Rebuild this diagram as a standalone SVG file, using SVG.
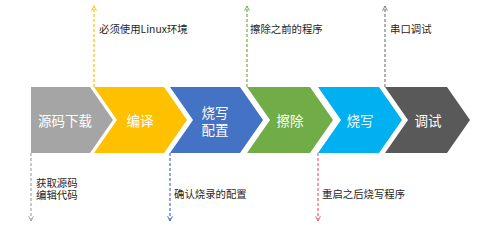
<svg xmlns="http://www.w3.org/2000/svg" width="484" height="228" viewBox="0 0 484 228">
<style>
.lbl{font-family:"Noto Sans CJK SC","Noto Sans",sans-serif;font-size:13.5px;fill:#ffffff;text-anchor:middle;dominant-baseline:central}
.note{font-family:"Noto Sans CJK SC","Noto Sans",sans-serif;font-size:10.4px;fill:#262626;dominant-baseline:central}
.dl{fill:none;stroke-width:1.2;stroke-dasharray:3 2}
</style>
<defs>
<marker id="mGray" viewBox="0 0 10 10" refX="9" refY="5" markerWidth="6" markerHeight="6" markerUnits="userSpaceOnUse" orient="auto"><path d="M1,1 L9,5 L1,9" fill="none" stroke="#A5A5A5" stroke-width="1.6"/></marker>
<marker id="mYellow" viewBox="0 0 10 10" refX="9" refY="5" markerWidth="6" markerHeight="6" markerUnits="userSpaceOnUse" orient="auto"><path d="M1,1 L9,5 L1,9" fill="none" stroke="#FFC000" stroke-width="1.6"/></marker>
<marker id="mBlue" viewBox="0 0 10 10" refX="9" refY="5" markerWidth="6" markerHeight="6" markerUnits="userSpaceOnUse" orient="auto"><path d="M1,1 L9,5 L1,9" fill="none" stroke="#4472C4" stroke-width="1.6"/></marker>
<marker id="mGreen" viewBox="0 0 10 10" refX="9" refY="5" markerWidth="6" markerHeight="6" markerUnits="userSpaceOnUse" orient="auto"><path d="M1,1 L9,5 L1,9" fill="none" stroke="#70AD47" stroke-width="1.6"/></marker>
<marker id="mRed" viewBox="0 0 10 10" refX="9" refY="5" markerWidth="6" markerHeight="6" markerUnits="userSpaceOnUse" orient="auto"><path d="M1,1 L9,5 L1,9" fill="none" stroke="#E8636F" stroke-width="1.6"/></marker>
<marker id="mDark" viewBox="0 0 10 10" refX="9" refY="5" markerWidth="6" markerHeight="6" markerUnits="userSpaceOnUse" orient="auto"><path d="M1,1 L9,5 L1,9" fill="none" stroke="#7F7F7F" stroke-width="1.6"/></marker>
</defs>
<rect width="484" height="228" fill="#ffffff"/>
<g id="connectors">
<line class="dl" x1="31" y1="153" x2="31" y2="221" stroke="#A5A5A5" marker-end="url(#mGray)"/>
<line class="dl" x1="94" y1="87" x2="94" y2="6" stroke="#FFC000" marker-end="url(#mYellow)"/>
<line class="dl" x1="170" y1="153" x2="170" y2="221" stroke="#4472C4" marker-end="url(#mBlue)"/>
<line class="dl" x1="247" y1="87" x2="247" y2="6" stroke="#70AD47" marker-end="url(#mGreen)"/>
<line class="dl" x1="318" y1="153" x2="318" y2="221" stroke="#E8636F" marker-end="url(#mRed)"/>
<line class="dl" x1="385" y1="87" x2="385" y2="6" stroke="#7F7F7F" marker-end="url(#mDark)"/>
</g>
<g id="node-download">
<polygon points="31,87 90,87 113,120 90,153 31,153" fill="#A5A5A5"/>
<text class="lbl" x="65" y="120">源码下载</text>
</g>
<g id="node-compile">
<polygon points="94,87 164,87 187,120 164,153 94,153 117,120" fill="#FFC000"/>
<text class="lbl" x="140" y="120">编译</text>
</g>
<g id="node-config">
<polygon points="170,87 240,87 263,120 240,153 170,153 193,120" fill="#4472C4"/>
<text class="lbl" x="215" y="111.5"><tspan x="215" y="111.5">烧写</tspan><tspan x="215" y="129">配置</tspan></text>
</g>
<g id="node-erase">
<polygon points="247,87 310,87 333,120 310,153 247,153 270,120" fill="#70AD47"/>
<text class="lbl" x="290" y="120">擦除</text>
</g>
<g id="node-flash">
<polygon points="318,87 379,87 402,120 379,153 318,153 341,120" fill="#00B0F0"/>
<text class="lbl" x="360" y="120">烧写</text>
</g>
<g id="node-debug">
<polygon points="385,87 447,87 470,120 447,153 385,153 408,120" fill="#595959"/>
<text class="lbl" x="428" y="120">调试</text>
</g>
<g id="notes">
<text class="note" x="36" y="181.5"><tspan x="36" y="181.5">获取源码</tspan><tspan x="36" y="193.5">编辑代码</tspan></text>
<text class="note" x="99" y="28">必须使用Linux环境</text>
<text class="note" x="250" y="28">擦除之前的程序</text>
<text class="note" x="390" y="28">串口调试</text>
<text class="note" x="174" y="193">确认烧录的配置</text>
<text class="note" x="322" y="193">重启之后烧写程序</text>
</g>
</svg>
